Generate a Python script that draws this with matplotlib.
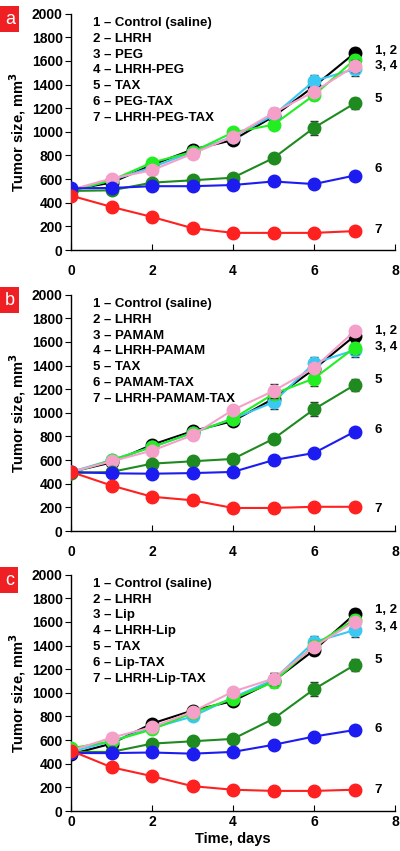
import matplotlib
matplotlib.use("Agg")
import matplotlib.pyplot as plt

plt.rcParams['font.family'] = ['Liberation Sans', 'DejaVu Sans']
plt.rcParams['font.weight'] = 'bold'
plt.rcParams['mathtext.default'] = 'bf'

days = [0, 1, 2, 3, 4, 5, 6, 7]

# order of series: control, LHRH, carrier, LHRH-carrier, TAX, carrier-TAX, LHRH-carrier-TAX
colors = ['black', '#3cc8f4', '#22ee22', '#f4a0c8', '#1f8a1f', '#1c1cf0', '#ff2020']

names_a = ['Control (saline)', 'LHRH', 'PEG', 'LHRH-PEG', 'TAX', 'PEG-TAX', 'LHRH-PEG-TAX']
names_b = ['Control (saline)', 'LHRH', 'PAMAM', 'LHRH-PAMAM', 'TAX', 'PAMAM-TAX', 'LHRH-PAMAM-TAX']
names_c = ['Control (saline)', 'LHRH', 'Lip', 'LHRH-Lip', 'TAX', 'Lip-TAX', 'LHRH-Lip-TAX']

mean_a = [
    [510, 570, 720, 850, 930, 1130, 1385, 1665],
    [500, 590, 700, 830, 960, 1140, 1430, 1530],
    [500, 590, 740, 830, 995, 1060, 1310, 1610],
    [510, 605, 675, 815, 960, 1160, 1340, 1555],
    [500, 505, 570, 590, 612, 778, 1034, 1240],
    [522, 525, 540, 540, 550, 580, 558, 630],
    [460, 365, 280, 185, 145, 145, 145, 160],
]
err_a = [
    [20, 20, 25, 30, 30, 40, 50, 40],
    [20, 20, 25, 30, 30, 40, 50, 60],
    [20, 20, 25, 30, 30, 40, 40, 50],
    [20, 20, 25, 40, 30, 40, 40, 50],
    [15, 15, 20, 20, 25, 35, 60, 50],
    [15, 15, 20, 35, 20, 20, 20, 25],
    [15, 15, 15, 15, 10, 10, 10, 10],
]

mean_b = [
    [500, 580, 730, 845, 930, 1120, 1370, 1650],
    [500, 600, 710, 830, 950, 1090, 1420, 1530],
    [490, 600, 710, 830, 950, 1160, 1290, 1550],
    [500, 590, 680, 810, 1025, 1185, 1380, 1690],
    [490, 500, 570, 590, 610, 780, 1030, 1235],
    [500, 488, 485, 490, 500, 600, 660, 840],
    [500, 385, 290, 260, 195, 195, 205, 205],
]
err_b = [
    [20, 20, 25, 30, 30, 50, 40, 40],
    [20, 20, 25, 30, 30, 60, 50, 60],
    [20, 20, 25, 30, 30, 40, 60, 50],
    [20, 20, 40, 30, 30, 60, 40, 40],
    [15, 15, 20, 20, 25, 35, 60, 50],
    [15, 15, 20, 20, 20, 20, 20, 25],
    [15, 15, 15, 15, 10, 10, 10, 10],
]

mean_c = [
    [480, 570, 740, 850, 930, 1100, 1360, 1665],
    [500, 590, 700, 800, 960, 1110, 1430, 1530],
    [530, 590, 690, 830, 950, 1090, 1400, 1620],
    [510, 620, 710, 840, 1010, 1120, 1390, 1600],
    [500, 500, 570, 590, 610, 780, 1030, 1235],
    [490, 490, 495, 485, 500, 560, 630, 685],
    [510, 370, 295, 210, 180, 170, 170, 180],
]
err_c = [
    [20, 20, 25, 30, 30, 50, 40, 40],
    [20, 20, 25, 30, 30, 60, 50, 60],
    [20, 20, 25, 30, 30, 40, 40, 50],
    [20, 20, 25, 30, 30, 50, 40, 40],
    [15, 15, 20, 20, 25, 35, 60, 50],
    [15, 15, 20, 20, 20, 20, 20, 30],
    [15, 15, 15, 15, 10, 10, 10, 10],
]

# right-hand group labels and their heights
group_labels = ['1, 2', '3, 4', '5', '6', '7']
group_y_a = [1680, 1560, 1280, 686, 170]
group_y_b = [1695, 1560, 1280, 856, 186]
group_y_c = [1700, 1560, 1280, 695, 178]

panels = [
    ('a', names_a, mean_a, err_a, group_y_a, 0.7062, 10),
    ('b', names_b, mean_b, err_b, group_y_b, 0.376, 10),
    ('c', names_c, mean_c, err_c, group_y_c, 0.047, 3),
]

fig = plt.figure(figsize=(4, 8.51), dpi=100)

for letter, names, means, errs, gy, bottom, xpad in panels:
    ax = fig.add_axes([0.1775, bottom, 0.81, 0.2778])
    for i in range(7):
        ax.errorbar(days, means[i], yerr=errs[i], color=colors[i], ecolor='#333333',
                    elinewidth=1, capsize=3, capthick=1, marker='o', markersize=9,
                    linewidth=1.5, zorder=3 + i)
    ax.set_xlim(0, 8)
    ax.set_ylim(0, 2000)
    ax.set_xticks([0, 2, 4, 6, 8])
    ax.set_yticks(range(0, 2001, 200))
    ax.spines['top'].set_visible(False)
    ax.spines['right'].set_visible(False)
    ax.spines['left'].set_linewidth(1)
    ax.spines['bottom'].set_linewidth(1)
    ax.tick_params(axis='y', direction='out', length=4, labelsize=10, pad=2)
    ax.tick_params(axis='x', direction='in', length=4, labelsize=10, pad=xpad)
    for lab in ax.get_xticklabels() + ax.get_yticklabels():
        lab.set_fontweight('bold')
    ax.set_ylabel('Tumor size, mm$^3$', fontsize=10.5, fontweight='bold', labelpad=3)
    for k, nm in enumerate(names):
        ax.text(0.55, 1922 - k * 134, '%d \u2013 %s' % (k + 1, nm), fontsize=9.5,
                fontweight='bold', va='center', ha='left')
    for lab, yv in zip(group_labels, gy):
        ax.text(7.5, yv, lab, fontsize=9.5, fontweight='bold', va='center', ha='left')
    top_px = (1 - bottom - 0.2778) * 851
    fig.text(0.012, 1 - (top_px - 3) / 851, letter, color='white', fontsize=13,
             fontweight='normal', va='top', ha='left',
             bbox=dict(boxstyle='square,pad=0.25', facecolor='#ee2024', edgecolor='none'))
    if letter == 'c':
        ax.set_xlabel('Time, days', fontsize=10.5, fontweight='bold', labelpad=2)

fig.savefig('out.png', dpi=100)
